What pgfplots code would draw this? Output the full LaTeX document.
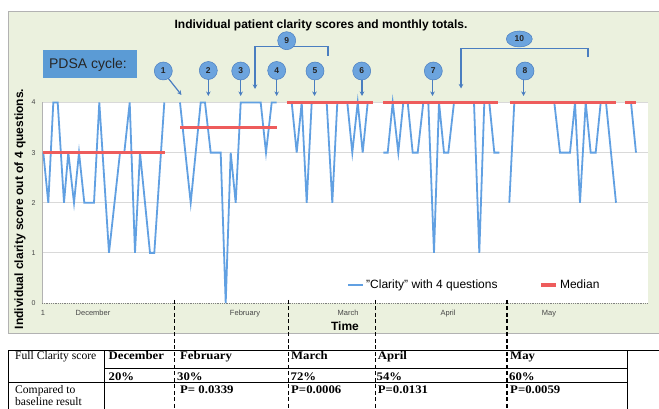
\documentclass[border=0pt]{standalone}
\usepackage{pgfplots}
\pgfplotsset{compat=1.18}
\usepackage{fontspec}
\setmainfont{Liberation Sans}
\newfontfamily\tabfont{Liberation Serif}[BoldFeatures={FakeStretch=1.1}]
\usetikzlibrary{arrows.meta}
\definecolor{chartbg}{RGB}{235,241,222}
\definecolor{clarblue}{RGB}{97,160,226}
\definecolor{medred}{RGB}{238,92,92}
\definecolor{pdsablue}{RGB}{91,155,213}
\definecolor{circblue}{RGB}{108,164,222}
\definecolor{arrblue}{RGB}{74,126,192}
\definecolor{gridgray}{RGB}{217,217,217}
\definecolor{ticktext}{RGB}{70,70,70}

\begin{document}
\begin{tikzpicture}
\path[use as bounding box] (0,0) rectangle (659pt,409pt);
\begin{scope}[x=1pt,y=-1pt,shift={(0pt,409pt)}]
\fill[chartbg] (8,11) rectangle (675,333);
\draw[gray!60, line width=0.6pt] (675,11) -- (8,11) -- (8,333) -- (675,333);
\end{scope}

\begin{axis}[
  at={(42pt,106pt)}, anchor=south west,
  scale only axis, width=606pt, height=200.5pt,
  xmin=42, xmax=648, ymin=0, ymax=4,
  clip=false,
  axis background/.style={fill=white},
  axis lines=left,
  axis line style={-},
  x axis line style={draw=gray, densely dotted, line width=0.8pt},
  y axis line style={draw=gray!60, line width=0.8pt},
  ytick={1,2,3,4},
  extra y ticks={0},
  extra y tick style={grid=none},
  ymajorgrids, grid style={gridgray, line width=0.9pt},
  xtick={43,93,245,348,448,549},
  xticklabels={1,December,February,March,April,May},
  major tick length=0pt,
  /pgf/number format/assume math mode=true,
  yticklabel style={font=\fontsize{7}{8}\selectfont, text=ticktext, xshift=-3pt},
  xticklabel style={font=\fontsize{7.5}{9}\selectfont, text=ticktext, yshift=-4pt},
  legend style={at={(axis cs:347,0.36)}, anchor=west, draw=none, fill=none,
    font=\fontsize{12}{14}\selectfont, inner sep=0pt,
    /tikz/every even column/.append style={column sep=40pt}},
  legend columns=2,
  legend image code/.code={\draw[#1] (0pt,0pt) -- (15pt,0pt);},
]
\addlegendimage{clarblue, line width=2pt}
\addlegendentry{"Clarity" with 4 questions}
\addlegendimage{medred, line width=3.5pt}
\addlegendentry{Median}

% individual patient scores (blue), one segment per month
\addplot[clarblue, line width=1.8pt, forget plot] coordinates {
(43.3,3)(48.3,2)(53.3,4)(57.7,4)(64,2)(68.3,3)(74,2)(79,3)(84.3,2)(94,2)
(99.3,4)(109,1)(120,3)(124.3,3)(129.7,4)(135,1)(140,3)(150,1)(154.3,1)(164.3,4)};
\addplot[clarblue, line width=1.8pt, forget plot] coordinates {
(180,4)(190.7,2)(200.7,4)(205,4)(210.7,3)(220.7,3)(225.7,0)(230.7,3)(235.7,2)
(240.7,4)(260.7,4)(266,3)(271.7,4)(276.7,4)};
\addplot[clarblue, line width=1.8pt, forget plot] coordinates {
(291.7,4)(296.7,3)(301.7,4)(306.7,2)(311.7,4)(326.7,4)(332.3,2)(337.3,4)
(347.3,4)(352.3,3)(357.7,4)(362.7,3)(367.7,4)(371.7,4)};
\addplot[clarblue, line width=1.8pt, forget plot] coordinates {
(383.3,3)(387.7,3)(392.7,4)(398.3,3)(403.3,4)(407.7,4)(412.7,3)(417.7,3)
(423.3,4)(428.3,4)(434,1)(439,4)(444,3)(448.3,3)(454,4)(474,4)(479.3,1)
(484.3,4)(489.3,4)(494.3,3)(499.3,3)};
\addplot[clarblue, line width=1.8pt, forget plot] coordinates {
(509.3,2)(514.3,4)(554.3,4)(560,3)(570,3)(575,4)(580,2)(585.7,4)(590.7,3)
(595.7,3)(600.7,4)(606,4)(616,2)};
\addplot[clarblue, line width=1.8pt, forget plot] coordinates {(631,4)(636,3)};

% monthly medians (red)
\addplot[medred, line width=3.5pt, forget plot] coordinates {(43,3)(164.5,3)};
\addplot[medred, line width=3.5pt, forget plot] coordinates {(180,3.5)(276.7,3.5)};
\addplot[medred, line width=3.5pt, forget plot] coordinates {(286.7,4)(372.5,4)};
\addplot[medred, line width=3.5pt, forget plot] coordinates {(383,4)(498,4)};
\addplot[medred, line width=3.5pt, forget plot] coordinates {(509.5,4)(616,4)};
\addplot[medred, line width=3.5pt, forget plot] coordinates {(625,4)(636,4)};
\end{axis}

\begin{scope}[x=1pt,y=-1pt,shift={(0pt,409pt)}]
% titles
\node[font=\bfseries\fontsize{12}{14}\selectfont] at (321,25) {Individual patient clarity scores and monthly totals.};
\node[rotate=90, font=\bfseries\fontsize{12}{14}\selectfont] at (20,209) {Individual clarity score out of 4 questions.};
\node[font=\bfseries\fontsize{12}{14}\selectfont] at (345,326) {Time};
% PDSA box
\fill[pdsablue] (43,50.5) rectangle (137,78.5);
\node[font=\fontsize{14}{16}\selectfont, text=black!85] at (88,64.5) {PDSA cycle:};
% brackets
\draw[arrblue, line width=1.2pt, -{Stealth[length=4.5pt,width=4.5pt]}] (328,56) -- (328,46.7) -- (255,46.7) -- (255,89);
\draw[arrblue, line width=1.2pt, -{Stealth[length=4.5pt,width=4.5pt]}] (588,57.3) -- (588,48.3) -- (461,48.3) -- (461,88.5);
% arrows
\draw[arrblue, line width=1.2pt, -{Stealth[length=4.5pt,width=4.5pt]}] (168,78) -- (181.5,95);
\foreach \xx in {208.3,240.7,276.7,314.5,362,432.5,523.5}{
  \draw[arrblue, line width=1.2pt, -{Stealth[length=4.5pt,width=4.5pt]}] (\xx,79) -- (\xx,96);
}
% circles
\foreach \n/\xx/\yy in {1/163.3/71,2/208.3/70.5,3/240.7/71,4/276.7/70.5,5/315/71,6/361.7/71,7/433.3/71,8/525/71,9/286.7/40.7}{
  \filldraw[fill=circblue, draw=arrblue, line width=0.5pt] (\xx,\yy) circle (9pt);
  \node[font=\bfseries\fontsize{8.5}{9}\selectfont, text=black!85] at (\xx,\yy) {\n};
}
\filldraw[fill=circblue, draw=arrblue, line width=0.5pt] (519.3,39) ellipse [x radius=13pt, y radius=8pt];
\node[font=\bfseries\fontsize{8.5}{9}\selectfont, text=black!85] at (519.3,39) {10};
% dashed month separators
\foreach \xx in {174.5,288.7,375.7,506.8}{
  \draw[black, line width=1.5pt, dash pattern=on 4pt off 2.5pt] (\xx,300) -- (\xx,412);
}
% table
\draw[black, line width=1pt] (8,350.7) -- (662,350.7);
\draw[black, line width=1pt] (104,369) -- (627.5,369);
\draw[black, line width=1pt] (8,382.3) -- (627.5,382.3);
\foreach \xx in {8,104,627.5}{\draw[black, line width=1pt] (\xx,350.7) -- (\xx,412);}
\begin{scope}[every node/.style={anchor=base west, inner sep=0pt, font=\tabfont\fontsize{11.6}{13}\selectfont}]
\node at (15,360) {Full Clarity score};
\node at (15,394) {Compared to};
\node at (15,406) {baseline result};
\node[font=\tabfont\bfseries\fontsize{11.6}{13}\selectfont] at (108.5,360) {December};
\node[font=\tabfont\bfseries\fontsize{11.6}{13}\selectfont] at (180,360) {February};
\node[font=\tabfont\bfseries\fontsize{11.6}{13}\selectfont] at (291,360) {March};
\node[font=\tabfont\bfseries\fontsize{11.6}{13}\selectfont] at (377.7,360) {April};
\node[font=\tabfont\bfseries\fontsize{11.6}{13}\selectfont] at (510,360) {May};
\node[font=\tabfont\bfseries\fontsize{11.6}{13}\selectfont] at (108.5,381) {20\%};
\node[font=\tabfont\bfseries\fontsize{11.6}{13}\selectfont] at (177,381) {30\%};
\node[font=\tabfont\bfseries\fontsize{11.6}{13}\selectfont] at (290.5,381) {72\%};
\node[font=\tabfont\bfseries\fontsize{11.6}{13}\selectfont] at (376.5,381) {54\%};
\node[font=\tabfont\bfseries\fontsize{11.6}{13}\selectfont] at (509,381) {60\%};
\node[font=\tabfont\bfseries\fontsize{11.6}{13}\selectfont] at (180,394) {P= 0.0339};
\node[font=\tabfont\bfseries\fontsize{11.6}{13}\selectfont] at (291,394) {P=0.0006};
\node[font=\tabfont\bfseries\fontsize{11.6}{13}\selectfont] at (377.7,394) {P=0.0131};
\node[font=\tabfont\bfseries\fontsize{11.6}{13}\selectfont] at (510,394) {P=0.0059};
\end{scope}
\end{scope}
\end{tikzpicture}
\end{document}
